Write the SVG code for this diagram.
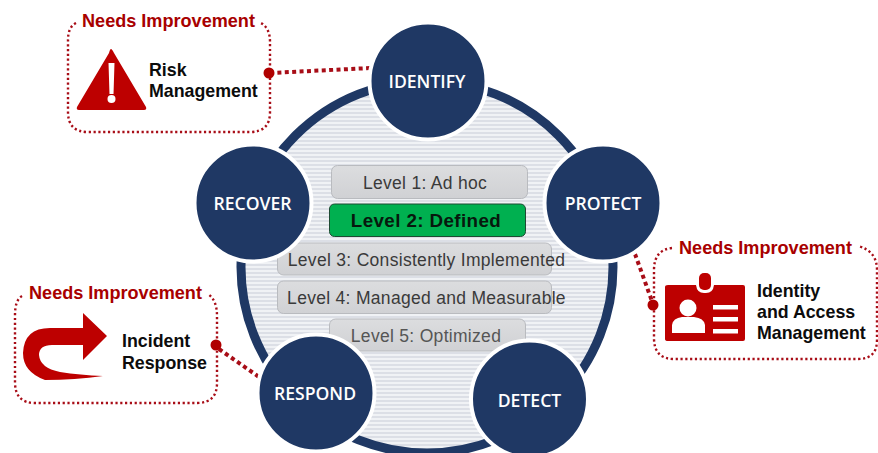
<svg xmlns="http://www.w3.org/2000/svg" width="878" height="453" viewBox="0 0 878 453">
<style>
text{font-family:"Liberation Sans",Arial,sans-serif}
.n{fill:#1f3864;stroke:#fff;stroke-width:4}
.nt{font-family:"Open Sans","Noto Sans",sans-serif;font-size:17.6px;font-weight:600;fill:#fff;text-anchor:middle}
.lv{fill:url(#lg);stroke:#b9bbbf;stroke-width:1}
.lt{font-size:17.5px;fill:#3a3a3a;text-anchor:middle;letter-spacing:.3px}
.ni{font-size:18.1px;font-weight:700;fill:#a80000}
.lb{font-size:17.8px;font-weight:700;fill:#0c0c0c}
.box{fill:none;stroke:#a80d17;stroke-width:2.4;stroke-dasharray:2.2 2.6}
.con{fill:none;stroke:#a80d17;stroke-width:4;stroke-dasharray:4 3.4}
.dot{fill:#b00000}
.ic{fill:#bd0000}
</style>
<defs>
<pattern id="st" width="4" height="4" patternUnits="userSpaceOnUse"><rect width="4" height="4" fill="#f0f2f5"/><rect width="4" height="2" fill="#dcdfe6"/></pattern>
<linearGradient id="lg" x1="0" y1="0" x2="0" y2="1"><stop offset="0" stop-color="#dcdddf"/><stop offset="1" stop-color="#d0d1d4"/></linearGradient>
</defs>
<g id="wheel"><circle cx="427" cy="267" r="186" fill="url(#st)" stroke="#1f3864" stroke-width="9"/></g>
<g id="level-3"><rect class="lv" x="277.500" y="243" width="274" height="32" rx="6"/><text class="lt" x="426.500" y="266">Level 3: Consistently Implemented</text></g>
<g id="level-4"><rect class="lv" x="277.500" y="281" width="274" height="32.500" rx="6"/><text class="lt" x="426.500" y="304">Level 4: Managed and Measurable</text></g>
<g id="level-5"><rect class="lv" x="329.500" y="319" width="196" height="32" rx="6"/><text class="lt" x="426" y="342" style="fill:#555">Level 5: Optimized</text></g>
<g id="level-1"><rect class="lv" x="331.500" y="165.500" width="196" height="33" rx="6"/><text class="lt" x="425" y="189">Level 1: Ad hoc</text></g>
<g id="level-2"><rect x="329.500" y="204" width="196" height="32.500" rx="5" fill="#00b050" stroke="#1d4a33" stroke-width="1"/><text x="426" y="227" font-size="18.8px" font-weight="700" fill="#07180e" text-anchor="middle" letter-spacing=".4">Level 2: Defined</text></g>
<g id="connectors">
<path class="con" d="M270 73L371 68"/>
<path class="con" d="M219 349L259 377"/>
<path class="con" d="M635 254L653 304"/>
</g>
<g id="identify"><circle class="n" cx="428" cy="81" r="58.500"/><text class="nt" x="427" y="88">IDENTIFY</text></g>
<g id="recover"><circle class="n" cx="253" cy="203" r="58.500"/><text class="nt" x="252.500" y="210">RECOVER</text></g>
<g id="protect"><circle class="n" cx="603" cy="203" r="58.500"/><text class="nt" x="603" y="210">PROTECT</text></g>
<g id="respond"><circle class="n" cx="316" cy="393" r="58.500"/><text class="nt" x="315" y="400">RESPOND</text></g>
<g id="detect"><circle class="n" cx="529.500" cy="399" r="58.500"/><text class="nt" x="529.500" y="407">DETECT</text></g>
<g id="risk-callout">
<path class="box" d="M76 23Q68 27 68 40V112Q68 132 88 132H250Q270 132 270 112V42Q270 28 261 23"/>
<text class="ni" x="82" y="27">Needs Improvement</text>
<path class="ic" d="M111 49Q112 49 114 53L146 107Q147 110 144 110H79Q76 110 77 107L109 53Q110 49 111 49Z"/>
<path fill="#fff" d="M108.500 63H114.500L113.500 94H109.500Z"/><circle cx="111.500" cy="99" r="4" fill="#fff"/>
<text class="lb" x="149" y="76">Risk</text><text class="lb" x="149" y="97">Management</text>
<circle class="dot" cx="269" cy="73" r="5.500"/>
</g>
<g id="respond-callout">
<path class="box" d="M22 296Q15 300 15 315V382Q15 403 35 403H197Q217 403 217 383V316Q217 300 208 294"/>
<text class="ni" x="29" y="299">Needs Improvement</text>
<path class="ic" d="M83 313L107 336L83 360V345H52Q39 345 39 355Q40 368 60 372Q80 375 103 376Q75 380 45 380Q23 372 23 353Q24 328 50 328H83Z"/>
<text class="lb" x="122" y="347">Incident</text><text class="lb" x="122" y="369">Response</text>
<circle class="dot" cx="216" cy="345" r="5.500"/>
</g>
<g id="iam-callout">
<path class="box" d="M672 248Q654 250 654 270V338Q654 359 674 359H858Q877 359 877 340V270Q877 251 858 246"/>
<text class="ni" x="679" y="254">Needs Improvement</text>
<path class="ic" d="M668 285H696Q697 293 704 293H706Q713 293 714 285H743Q745 285 745 287V339Q745 341 743 341H668Q665 341 665 339V287Q665 285 668 285Z"/>
<rect class="ic" x="699" y="273" width="12" height="17" rx="5"/>
<g fill="#fff"><circle cx="688" cy="308" r="8.500"/><path d="M672 333V325Q673 318 682 317H694Q704 318 705 325V333Z"/><rect x="713" y="305" width="25" height="4.500"/><rect x="713" y="317" width="25" height="4.500"/><rect x="713" y="329" width="25" height="4.500"/></g>
<text class="lb" x="757" y="297">Identity</text><text class="lb" x="757" y="318">and Access</text><text class="lb" x="757" y="339">Management</text>
<circle class="dot" cx="653" cy="305" r="5.500"/>
</g>
</svg>
